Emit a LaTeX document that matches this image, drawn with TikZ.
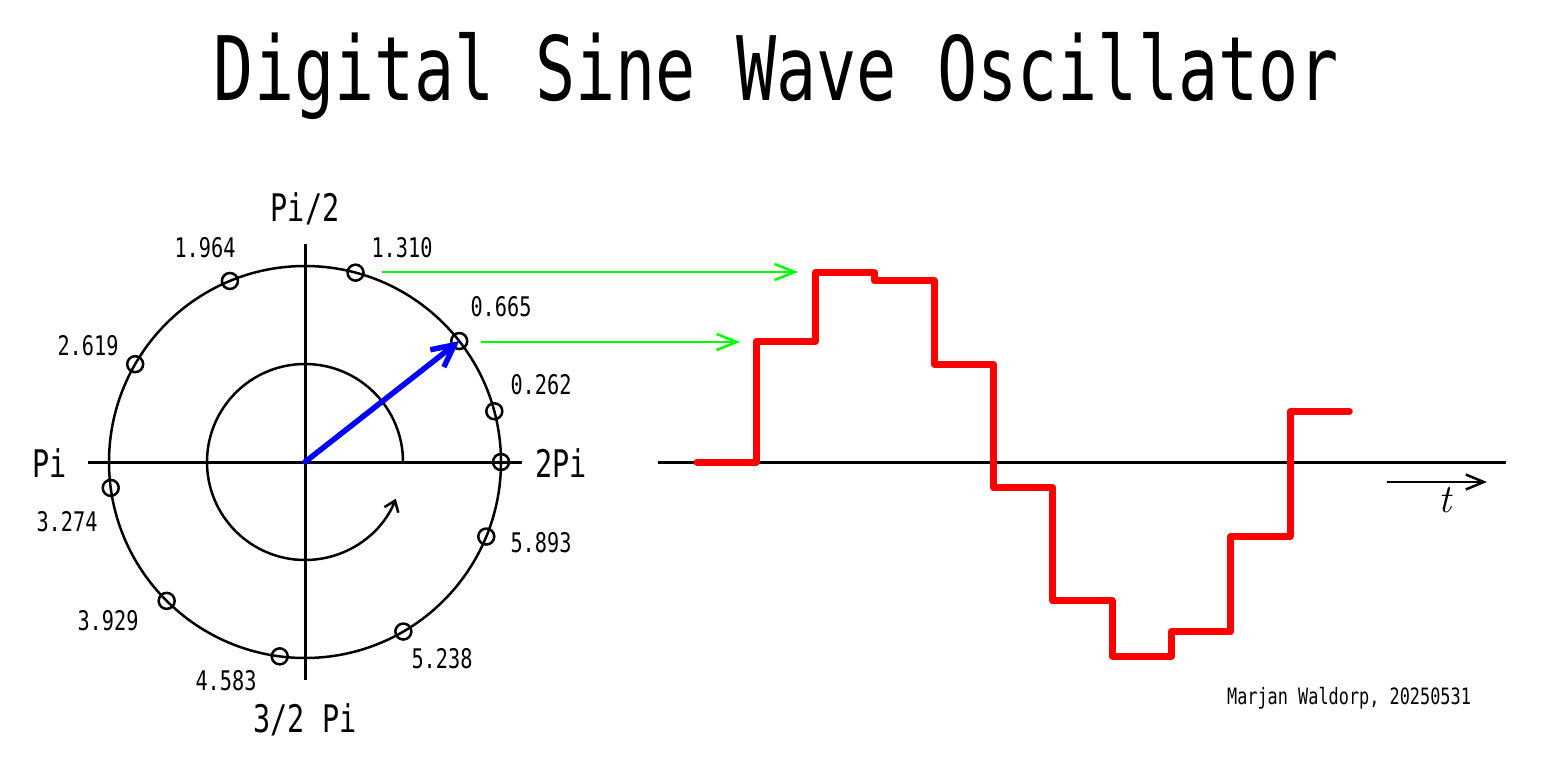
\documentclass[tikz,border=0pt]{standalone}
\usepackage{fontspec}
\newfontfamily\isofont[FakeStretch=0.75]{DejaVu Sans Mono}
\usetikzlibrary{
    arrows.meta,
    calc,
    positioning
}
\definecolor{phasorblue}{RGB}{0,0,255}
\definecolor{samplered}{RGB}{255,0,0}
\definecolor{feedgreen}{RGB}{0,255,0}
\tikzset {
    axis/.style = {line width = 3pt},
    rim/.style = {line width = 2.5pt},
    sample mark/.style = {circle, draw, line width = 2.5pt, minimum size = 16pt, inner sep = 0pt},
    value/.style = {font = \isofont\fontsize{27}{30}\selectfont, inner sep = 0pt, anchor = base},
    quadrant/.style = {font = \isofont\fontsize{38}{40}\selectfont, inner sep = 0pt, anchor = base},
    phasor/.style = {line width = 5.5pt, phasorblue, line cap = round,
        arrows = {-Straight Barb[length = 22pt, width = 22pt]}},
    turn/.style = {line width = 2.5pt, arrows = {-Straight Barb[length = 10pt, width = 15pt]}},
    feed/.style = {line width = 2.5pt, feedgreen, arrows = {-Straight Barb[length = 20pt, width = 16pt]}},
    signal/.style = {line width = 7pt, samplered, line join = round, line cap = round}
}
\begin{document}
\begin{tikzpicture}[x = 1pt, y = 1pt]
    \useasboundingbox (0, 0) rectangle (1546, -768);
    \fill [white] (0, 0) rectangle (1546, -768);
    % title
    \node (title) [anchor = base, inner sep = 0pt,
        font = \isofont\fontsize{89}{90}\selectfont] at (776.5, -100)
        {Digital Sine Wave Oscillator};
    % unit circle
    \coordinate (o) at (305, -462);
    \coordinate (xl) at (88, -462);
    \coordinate (xr) at (522, -462);
    \coordinate (yt) at (305, -244);
    \coordinate (yb) at (305, -680);
    \draw [axis] (xl) -- (xr);
    \draw [axis] (yt) -- (yb);
    \draw [rim] (o) circle [radius = 196];
    \draw [turn] (o) ++(0:98) arc [start angle = 0, end angle = 338, radius = 98];
    \foreach \a [count = \i from 0] in {0, 0.262, 0.665, 1.310, 1.964, 2.619, 3.274, 3.929, 4.583, 5.238, 5.893}
        \node (m\i) [sample mark] at ($(o) + ({deg(\a)}:196)$) {};
    \draw [phasor] (o) -- (m2.center);
    % angle labels
    \node (q1) [quadrant] at (305, -221) {Pi/2};
    \node (q2) [quadrant] at (50, -477) {Pi};
    \node (q3) [quadrant] at (305, -732) {3/2 Pi};
    \node (q4) [quadrant] at (561, -477) {2Pi};
    \node (v1) [value] at (541, -394) {0.262};
    \node (v2) [value] at (501, -316) {0.665};
    \node (v3) [value] at (402, -257) {1.310};
    \node (v4) [value] at (205, -257) {1.964};
    \node (v5) [value] at (88, -355) {2.619};
    \node (v6) [value] at (67, -531) {3.274};
    \node (v7) [value] at (108, -630) {3.929};
    \node (v8) [value] at (226, -690) {4.583};
    \node (v9) [value] at (442, -668) {5.238};
    \node (v10) [value] at (541, -552) {5.893};
    % sampled output
    \coordinate (tl) at (658, -462);
    \coordinate (tr) at (1506, -462);
    \draw [axis] (tl) -- (tr);
    \coordinate (ta) at (1387, -482);
    \coordinate (tb) at (1487, -482);
    \draw [line width = 2.5pt, arrows = {-Straight Barb[length = 18pt, width = 15pt]}] (ta) -- (tb);
    \node (t) [inner sep = 0pt, anchor = base, font = \fontsize{40}{42}\selectfont\itshape] at (1445, -512) {t};
    \draw [signal] (697, -462)
        \foreach \a [count = \k] in {0, 0.665, 1.310, 1.964, 2.619, 3.274, 3.929, 4.583, 5.238, 5.893, 0.262}
            { |- ({697 + 59.3*\k}, {-462 + 196*sin(deg(\a))}) };
    \coordinate (g1a) at (382, -272);
    \coordinate (g1b) at (798, -272);
    \coordinate (g2a) at (481, -342);
    \coordinate (g2b) at (740, -342);
    \draw [feed] (g1a) -- (g1b);
    \draw [feed] (g2a) -- (g2b);
    % credit
    \node (credit) [inner sep = 0pt, font = \isofont\fontsize{22.5}{24}\selectfont]
        at (1349, -698) {Marjan Waldorp, 20250531};
\end{tikzpicture}
\end{document}
